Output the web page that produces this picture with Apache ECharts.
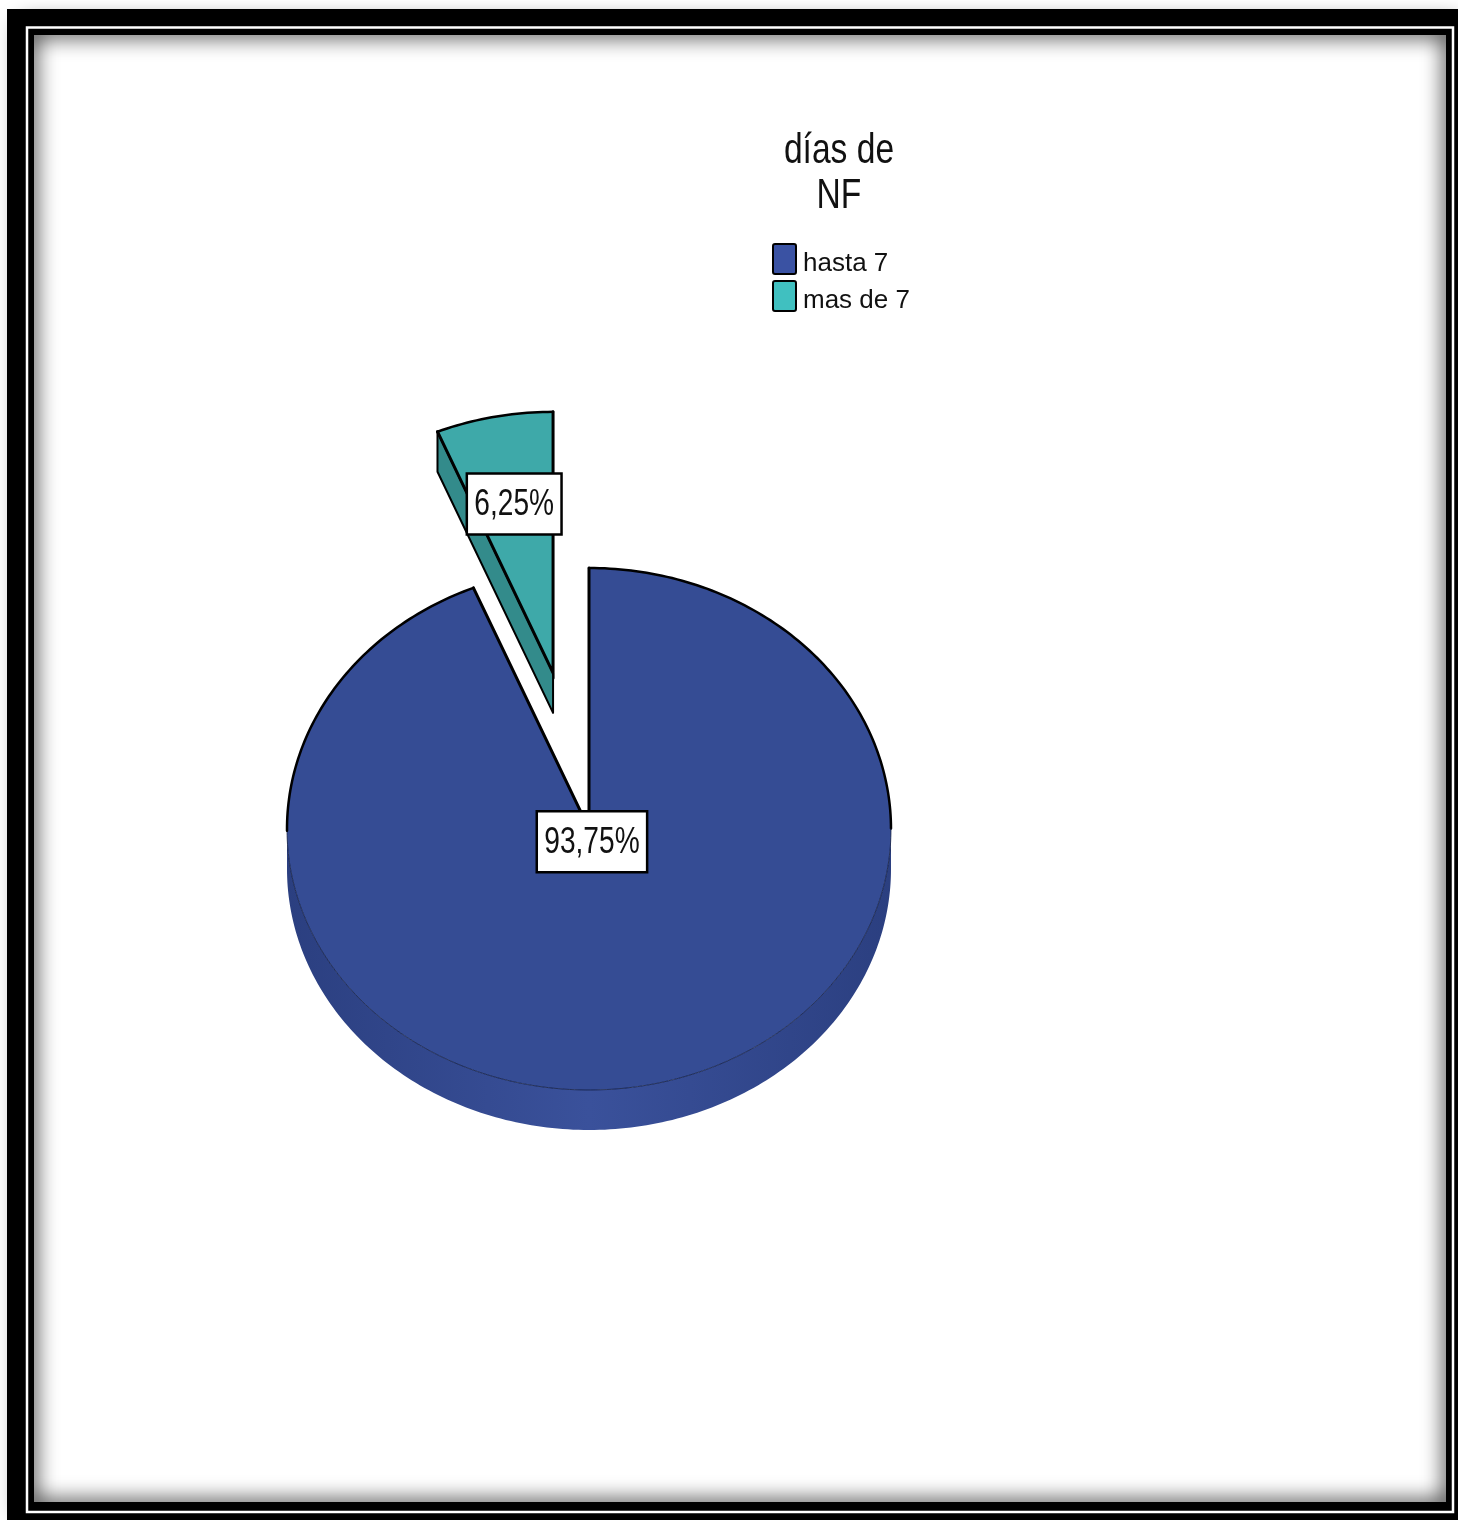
<!DOCTYPE html>
<html>
<head>
<meta charset="utf-8">
<script src="https://cdn.jsdelivr.net/npm/echarts@6/dist/echarts.min.js"></script>
<style>
  html, body { margin: 0; padding: 0; background: #fff; }
  #chart { width: 1458px; height: 1520px; }
</style>
</head>
<body>
<div id="chart"></div>
<script>
// Data
const categories = ['hasta 7', 'mas de 7'];
const values = [93.75, 6.25];
const legendTitle = 'días de\nNF';

// Styling per slice
const topColors = ['#354c94', '#3ea9a9'];
const wallEdgeColors = ['#2b3f80', '#2f8585'];
const wallMidColors = ['#3a519b', '#41b0b0'];
const sideColors = ['#2f4487', '#338b8b'];
const legendColors = ['#3a52a3', '#40c0c0'];
const explode = [0, 0.61];        // pull-out distance, fraction of radius
const labelRadius = [0.05, 0.66]; // label position along slice bisector

// Tilted pie geometry
const PIE = { cx: 589, cy: 829, rx: 302, ry: 261, depth: 40 };
const RAD = Math.PI / 180;
const FONT = '"Liberation Sans", Arial, sans-serif';

const measureCtx = document.createElement('canvas').getContext('2d');

const total = values.reduce((a, b) => a + b, 0);
const startAngles = [];
{
  let acc = 0;
  values.forEach(v => { startAngles.push(acc / total * 360); acc += v; });
}

// angle measured clockwise from 12 o'clock
function pt(cx, cy, deg, r, dy) {
  const a = deg * RAD;
  return [cx + PIE.rx * r * Math.sin(a), cy - PIE.ry * r * Math.cos(a) + (dy || 0)];
}
function arcAngles(a0, a1) {
  const n = Math.max(2, Math.ceil((a1 - a0) / 1));
  const out = [];
  for (let k = 0; k <= n; k++) out.push(a0 + (a1 - a0) * k / n);
  return out;
}

const LABEL_SIZE = 37, LABEL_SCALE = 0.76;

function makeRenderer(i) {
  return function (params, api) {
    const v = api.value(0);
    const a0 = startAngles[i];
    const a1 = a0 + v / total * 360;
    const mid = (a0 + a1) / 2;
    const off = pt(0, 0, mid, explode[i]);
    const cx = PIE.cx + off[0], cy = PIE.cy + off[1];
    const d = PIE.depth;
    const children = [];

    // outer wall on the front half
    const w0 = Math.max(a0, 90), w1 = Math.min(a1, 270);
    if (w1 > w0) {
      const angs = arcAngles(w0, w1);
      const upper = angs.map(a => pt(cx, cy, a, 1));
      const lower = angs.map(a => pt(cx, cy, a, 1, d)).reverse();
      children.push({
        type: 'polygon',
        shape: { points: upper.concat(lower) },
        style: {
          fill: {
            type: 'linear', global: true,
            x: cx - PIE.rx, y: 0, x2: cx + PIE.rx, y2: 0,
            colorStops: [
              { offset: 0, color: wallEdgeColors[i] },
              { offset: 0.5, color: wallMidColors[i] },
              { offset: 1, color: wallEdgeColors[i] }
            ]
          },
          stroke: null
        }
      });
    }

    // radial cut faces that face the viewer
    const radialFace = (a) => {
      const p = pt(cx, cy, a, 1);
      children.push({
        type: 'polygon',
        shape: { points: [[cx, cy], p, [p[0], p[1] + d], [cx, cy + d]] },
        style: { fill: sideColors[i], stroke: '#000', lineWidth: 2, lineJoin: 'round' }
      });
    };
    if (-Math.sin(a0 * RAD) > 1e-6) radialFace(a0);
    if (Math.sin(a1 * RAD) > 1e-6) radialFace(a1);

    // top face
    const angs = arcAngles(a0, a1);
    const arc = angs.map(a => pt(cx, cy, a, 1));
    children.push({
      type: 'polygon',
      shape: { points: [[cx, cy]].concat(arc) },
      style: { fill: topColors[i], stroke: null }
    });

    // outlines: heavy on the back rim and cuts, fine on the front rim
    const runs = [];
    let cur = null;
    for (let k = 0; k < angs.length - 1; k++) {
      const back = Math.cos((angs[k] + angs[k + 1]) / 2 * RAD) >= 0;
      if (!cur || cur.back !== back) { cur = { back, pts: [arc[k]] }; runs.push(cur); }
      cur.pts.push(arc[k + 1]);
    }
    runs.forEach(r => children.push({
      type: 'polyline',
      shape: { points: r.pts },
      style: r.back
        ? { stroke: '#000', lineWidth: 2.5, fill: null, lineCap: 'round', lineJoin: 'round' }
        : { stroke: 'rgba(15,25,60,0.75)', lineWidth: 1, fill: null }
    }));
    children.push({
      type: 'polyline',
      shape: { points: [arc[arc.length - 1], [cx, cy], arc[0]] },
      style: { stroke: '#000', lineWidth: 3, fill: null, lineCap: 'round', lineJoin: 'miter' }
    });

    // value label in a framed box
    const lp = pt(cx, cy, mid, labelRadius[i]);
    const text = v.toFixed(2).replace('.', ',') + '%';
    measureCtx.font = LABEL_SIZE + 'px ' + FONT;
    const tw = measureCtx.measureText(text).width * LABEL_SCALE;
    const bw = tw + 15, bh = 61;
    children.push({
      type: 'rect',
      shape: { x: lp[0] - bw / 2, y: lp[1] - bh / 2, width: bw, height: bh },
      style: { fill: '#fff', stroke: '#000', lineWidth: 2.5 }
    });
    children.push({
      type: 'text',
      x: lp[0], y: lp[1] + 1,
      scaleX: LABEL_SCALE,
      style: {
        text: text,
        font: LABEL_SIZE + 'px ' + FONT,
        fill: '#111',
        align: 'center',
        verticalAlign: 'middle'
      }
    });

    return { type: 'group', children };
  };
}

const chart = echarts.init(document.getElementById('chart'), null, { renderer: 'canvas' });

chart.setOption({
  backgroundColor: '#fff',
  animation: false,
  graphic: [
    // frame
    { type: 'rect', z: -20, silent: true, shape: { x: 7, y: 9, width: 1451, height: 1511 }, style: { fill: '#000' } },
    { type: 'rect', z: -19, silent: true, shape: { x: 34, y: 35, width: 1412, height: 1467 }, style: { fill: '#fff' } },
    { type: 'rect', z: -18, silent: true, shape: { x: 28, y: 29, width: 1424, height: 1479 },
      style: { fill: 'none', stroke: '#000', lineWidth: 12, shadowBlur: 22, shadowColor: 'rgba(0,0,0,1)' } },
    { type: 'rect', z: -17, silent: true, shape: { x: 27, y: 27.5, width: 1426, height: 1484.5 },
      style: { fill: 'none', stroke: '#fff', lineWidth: 2.5 } },
    // legend heading
    { type: 'text', z: 10, x: 839, y: 129, scaleX: 0.8,
      style: { text: legendTitle, font: '42px ' + FONT, lineHeight: 45, fill: '#111', align: 'center', verticalAlign: 'top' } }
  ],
  legend: {
    orient: 'vertical',
    left: 772,
    top: 243,
    padding: 0,
    itemWidth: 23,
    itemHeight: 30,
    itemGap: 3,
    icon: 'path://M2,0H21Q23,0,23,2V28Q23,30,21,30H2Q0,30,0,28V2Q0,0,2,0Z',
    selectedMode: false,
    formatter: '{t|{name}}',
    textStyle: {
      fontFamily: FONT, fontSize: 26, color: '#111',
      rich: { t: { fontFamily: FONT, fontSize: 26, color: '#111', padding: [10, 0, 0, 2] } }
    },
    data: categories.map((c, i) => ({
      name: c,
      itemStyle: { color: legendColors[i], borderColor: '#000', borderWidth: 2 }
    }))
  },
  series: categories.map((c, i) => ({
    type: 'custom',
    name: c,
    coordinateSystem: 'none',
    color: legendColors[i],
    silent: true,
    data: [values[i]],
    renderItem: makeRenderer(i)
  }))
});
</script>
</body>
</html>
